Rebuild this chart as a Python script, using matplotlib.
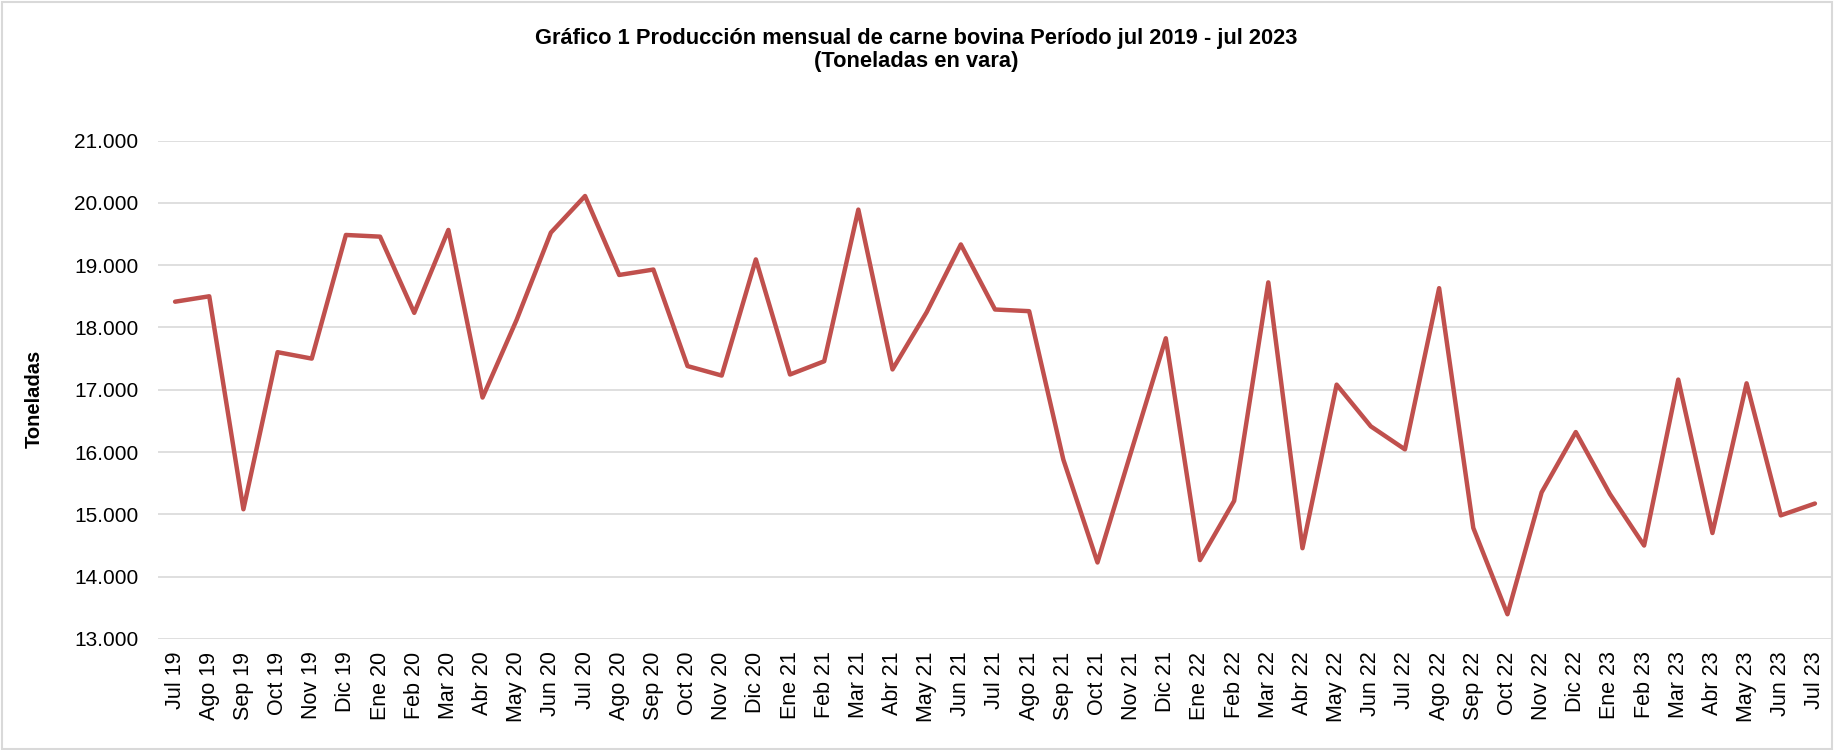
import matplotlib
matplotlib.use("Agg")
import matplotlib.pyplot as plt
from matplotlib.ticker import FuncFormatter, MultipleLocator
from matplotlib.patches import Rectangle

plt.rcParams['font.family'] = ['Liberation Sans', 'DejaVu Sans']

# Data: monthly beef production (tonnes), Jul 2019 - Jul 2023
months = ['Jul 19', 'Ago 19', 'Sep 19', 'Oct 19', 'Nov 19', 'Dic 19',
          'Ene 20', 'Feb 20', 'Mar 20', 'Abr 20', 'May 20', 'Jun 20',
          'Jul 20', 'Ago 20', 'Sep 20', 'Oct 20', 'Nov 20', 'Dic 20',
          'Ene 21', 'Feb 21', 'Mar 21', 'Abr 21', 'May 21', 'Jun 21',
          'Jul 21', 'Ago 21', 'Sep 21', 'Oct 21', 'Nov 21', 'Dic 21',
          'Ene 22', 'Feb 22', 'Mar 22', 'Abr 22', 'May 22', 'Jun 22',
          'Jul 22', 'Ago 22', 'Sep 22', 'Oct 22', 'Nov 22', 'Dic 22',
          'Ene 23', 'Feb 23', 'Mar 23', 'Abr 23', 'May 23', 'Jun 23',
          'Jul 23']
tonnes = [18413, 18500, 15082, 17603, 17500, 19484,
          19457, 18234, 19565, 16875, 18125, 19522,
          20109, 18842, 18929, 17380, 17228, 19092,
          17245, 17457, 19891, 17326, 18245, 19332,
          18288, 18261, 15880, 14228, 16033, 17826,
          14266, 15217, 18723, 14457, 17082, 16413,
          16043, 18630, 14783, 13397, 15353, 16321,
          15326, 14500, 17163, 14701, 17103, 14984,
          15174]

title = 'Gráfico 1 Producción mensual de carne bovina Período jul 2019 - jul 2023\n(Toneladas en vara)'

fig = plt.figure(figsize=(18.34, 7.5), dpi=100)
ax = fig.add_axes([158 / 1834, 1 - 639 / 750, (1832 - 158) / 1834, (639 - 140.5) / 750])

x = list(range(len(months)))
ax.plot(x, tonnes, color='#C0504D', linewidth=3.2, solid_joinstyle='round', solid_capstyle='round')

ax.set_xlim(-0.5, len(months) - 0.5)
ax.set_ylim(13000, 21000)
ax.yaxis.set_major_locator(MultipleLocator(1000))
ax.yaxis.set_major_formatter(FuncFormatter(lambda v, p: f'{int(v):,}'.replace(',', '.')))
ax.set_xticks(x)
ax.set_xticklabels(months, rotation=90, fontsize=15.5)
ax.tick_params(axis='y', length=0, pad=14, labelsize=15)
ax.tick_params(axis='x', length=0, pad=9)
ax.grid(axis='y', color='#d9d9d9', linewidth=1.2)
ax.set_axisbelow(True)
for s in ax.spines.values():
    s.set_visible(False)

fig.text(34 / 1834, 1 - 399 / 750, 'Toneladas', rotation=90, fontsize=14.5,
         fontweight='bold', ha='center', va='center')
fig.text(0.5 * (457 + 1110) * (1834 / 1568) / 1834, 1 - 50 / 750, title, ha='center', va='center',
         fontsize=15.75, fontweight='bold', linespacing=1.15)

fig.patches.append(Rectangle((0.001, 0.001), 0.998, 0.997, transform=fig.transFigure,
                             fill=False, edgecolor='#d9d9d9', linewidth=1.5))

fig.savefig('out.png', dpi=100, facecolor='white')
